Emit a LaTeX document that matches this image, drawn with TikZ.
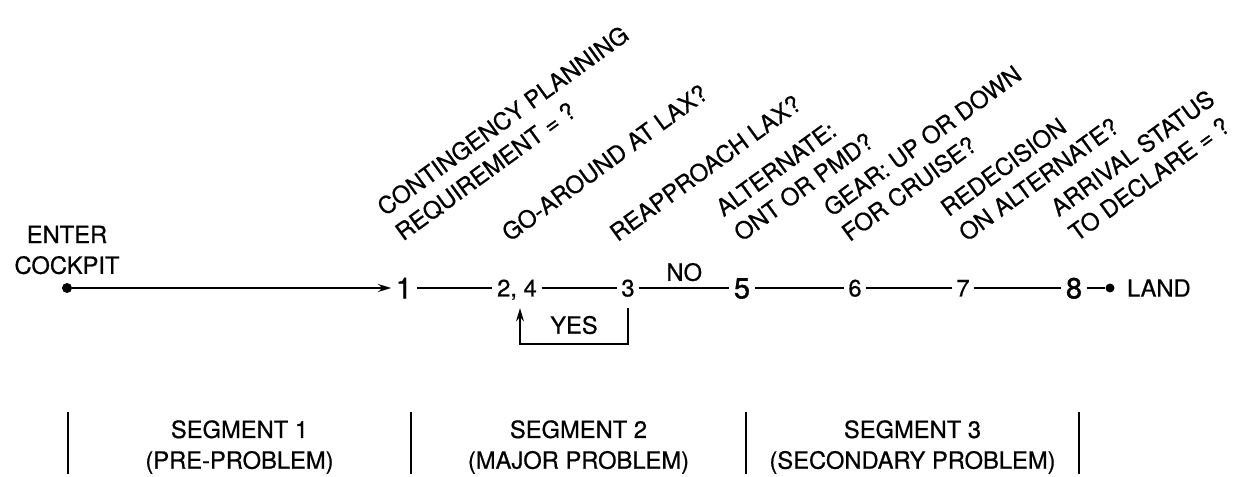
\documentclass[tikz,border=0pt]{standalone}
\usepackage{fontspec}
\setmainfont{TeX Gyre Heros}[FakeBold=0.6]
\newfontfamily\numfont{TeX Gyre Heros}[FakeBold=1.2]
\usetikzlibrary{arrows.meta,positioning}
\tikzset{
  txt/.style={font=\fontsize{13.5}{17.5}\selectfont, align=center},
  num/.style={font=\fontsize{13.5}{16}\selectfont, inner sep=2.5pt, text height=9.6pt, text depth=0pt},
  bignum/.style={font=\numfont\fontsize{16.5}{18}\selectfont, inner sep=2.5pt, text height=11.8pt, text depth=0pt},
  qlabel/.style={font=\fontsize{13.5}{17.5}\selectfont, align=left, rotate=36, anchor=south west, inner sep=0pt},
  flow/.style={line width=1.1pt},
  dot/.style={circle, fill=black, inner sep=0pt, minimum size=0.2cm},
  loopline/.style={line width=0.8pt},
  bar/.style={line width=0.8pt},
}
\begin{document}
\begin{tikzpicture}[>={Stealth[length=7.5pt,width=4.5pt]}]
  \useasboundingbox (0,0) rectangle (25.02,9.52);

  % Punti lungo la linea
  \node[dot] (start) at (1.34,3.76) {};
  \node[txt] (enter) at (1.34,4.52) {ENTER\\COCKPIT};
  \node[bignum] (n1) at (8.08,3.76) {1};
  \node[num] (n24) at (10.34,3.76) {2, 4};
  \node[num] (n3) at (12.56,3.76) {3};
  \node[bignum] (n5) at (14.84,3.76) {5};
  \node[num] (n6) at (17.10,3.76) {6};
  \node[num] (n7) at (19.26,3.76) {7};
  \node[bignum] (n8) at (21.48,3.76) {8};
  \node[dot, minimum size=0.18cm] (landdot) at (22.2,3.76) {};
  \node[txt, right=0.12cm of landdot] (land) {LAND};

  % Collegamenti
  \draw[flow, ->] (start) -- (n1);
  \draw[flow] (n1) -- (n24);
  \draw[flow] (n24) -- (n3);
  \draw[flow] (n3) -- (n5) node[midway, above, txt] (no) {NO};
  \draw[flow] (n5) -- (n6);
  \draw[flow] (n6) -- (n7);
  \draw[flow] (n7) -- (n8);
  \draw[flow] (n8) -- (landdot);

  % Ciclo YES
  \coordinate (loopR) at ([yshift=-0.14cm]n3.south);
  \coordinate (loopL) at ([xshift=0.06cm]loopR -| n24);
  \draw[loopline, ->] (loopR) -- ++(0,-0.72) -| (loopL)
    node[pos=0.25, above=2pt, txt] (yes) {YES};

  % Domande (ruotate)
  \coordinate (top) at (0,4.66);
  \node[qlabel] (q1) at (n1 |- top) {CONTINGENCY PLANNING\\REQUIREMENT = ?};
  \node[qlabel] (q2) at ([xshift=-0.14cm]n24 |- top) {GO-AROUND AT LAX?};
  \node[qlabel] (q3) at ([xshift=-0.2cm]n3 |- top) {REAPPROACH LAX?};
  \node[qlabel] (q5) at (n5 |- top) {ALTERNATE:\\ONT OR PMD?};
  \node[qlabel] (q6) at ([xshift=-0.1cm]n6 |- top) {GEAR: UP OR DOWN\\FOR CRUISE?};
  \node[qlabel] (q7) at ([xshift=0.08cm]n7 |- top) {REDECISION\\ON ALTERNATE?};
  \node[qlabel] (q8) at ([xshift=0.06cm]n8 |- top) {ARRIVAL STATUS\\TO DECLARE = ?};

  % Segmenti
  \foreach \x in {1.36, 8.22, 14.92, 21.58}
    \draw[bar] (\x,1.28) -- (\x,0.04);
  \node[txt] (seg1) at (4.79,0.58) {SEGMENT 1\\(PRE-PROBLEM)};
  \node[txt] (seg2) at (11.57,0.58) {SEGMENT 2\\(MAJOR PROBLEM)};
  \node[txt] (seg3) at (18.25,0.58) {SEGMENT 3\\(SECONDARY PROBLEM)};
\end{tikzpicture}
\end{document}
